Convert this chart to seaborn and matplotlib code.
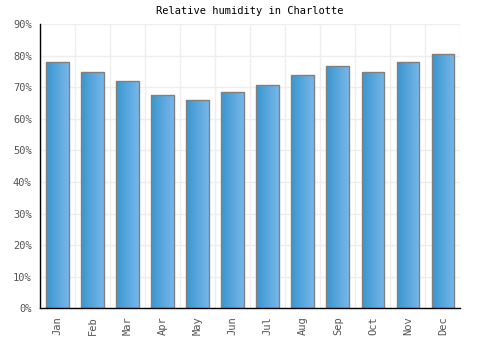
import numpy as np
import pandas as pd
import matplotlib
matplotlib.use("Agg")
import matplotlib.pyplot as plt
import seaborn as sns
from matplotlib.colors import LinearSegmentedColormap

months = ["Jan", "Feb", "Mar", "Apr", "May", "Jun",
          "Jul", "Aug", "Sep", "Oct", "Nov", "Dec"]
humidity = [78, 75, 72, 67.5, 66, 68.5, 70.7, 74, 76.7, 75, 78, 80.5]
y_ticks = [0, 10, 20, 30, 40, 50, 60, 70, 80, 90]

df = pd.DataFrame({"Month": months, "Humidity": humidity})

sns.set_style("white")
plt.rcParams["font.family"] = ["DejaVu Sans Mono"]

fig = plt.figure(figsize=(5, 3.5), dpi=100)
ax = fig.add_axes([0.08, 0.119, 0.841, 0.812])

sns.barplot(data=df, x="Month", y="Humidity", color="#4aa3dc",
            width=0.65, edgecolor="#808080", linewidth=1, ax=ax, zorder=3)

# gradient fill: darker blue on the left, lighter on the right
cmap = LinearSegmentedColormap.from_list("bar", ["#3897cf", "#78b6ea"])
grad = np.linspace(0, 1, 64).reshape(1, -1)
for bar in ax.patches:
    x0, y0 = bar.get_x(), bar.get_y()
    w, h = bar.get_width(), bar.get_height()
    im = ax.imshow(grad, cmap=cmap, aspect="auto",
                   extent=[x0, x0 + w, y0, y0 + h], zorder=3.5)
    im.set_clip_path(bar)
    bar.set_facecolor("none")
    bar.set_zorder(4)

ax.set_xlim(-0.5, 11.5)
ax.set_ylim(0, 90)
ax.set_yticks(y_ticks)
ax.set_yticklabels([f"{v}%" for v in y_ticks])
ax.set_xticks(range(12))
ax.set_xticklabels(months, rotation=90)
ax.set_xticks(np.arange(-0.5, 12, 1), minor=True)
ax.tick_params(axis="both", which="both", length=0, labelsize=7.5,
               colors="#555555", pad=6)
ax.grid(True, which="minor", axis="x", color="#eeeeee", linewidth=1, zorder=0)
ax.grid(True, which="major", axis="y", color="#eeeeee", linewidth=1, zorder=0)
ax.grid(False, which="major", axis="x")

for s in ["top", "right"]:
    ax.spines[s].set_visible(False)
for s in ["left", "bottom"]:
    ax.spines[s].set_color("black")
    ax.spines[s].set_linewidth(1)
    ax.spines[s].set_zorder(5)

ax.set_xlabel("")
ax.set_ylabel("")
ax.set_title("Relative humidity in Charlotte", fontsize=7.5, color="black", pad=7)

fig.savefig("out.png", dpi=100, facecolor="white")
